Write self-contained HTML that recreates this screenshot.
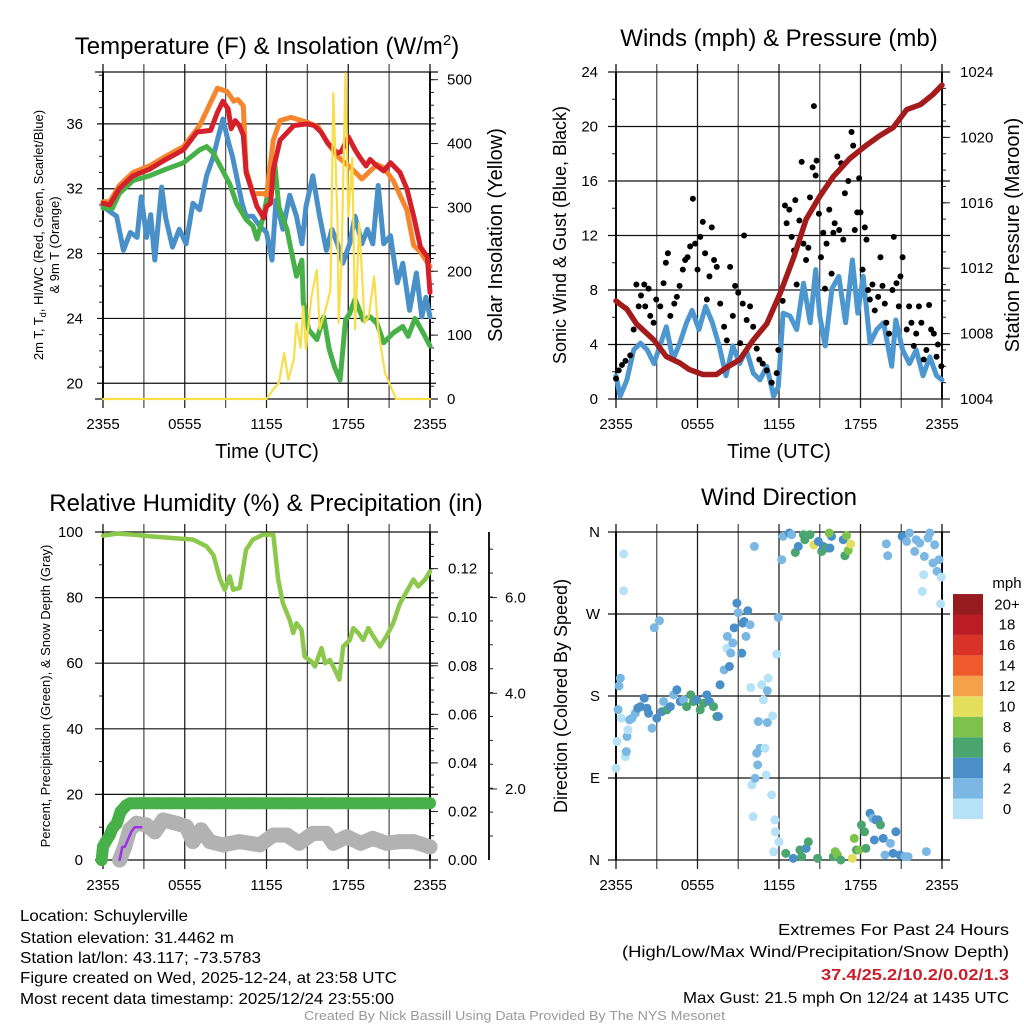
<!DOCTYPE html>
<html><head><meta charset="utf-8"><style>
html,body{margin:0;padding:0;background:#fff;}
svg{display:block;font-family:"Liberation Sans",Arial,sans-serif;}
</style></head><body>
<svg id="fig" width="1024" height="1024" viewBox="0 0 1024 1024" xmlns="http://www.w3.org/2000/svg">
<rect width="1024" height="1024" fill="#fff"/>
<g id="layer"></g>
<g id="texts">
<text x="267" y="54" font-size="24" text-anchor="middle">Temperature (F) &amp; Insolation (W/m<tspan dy="-9" font-size="15">2</tspan><tspan dy="9">)</tspan></text>
<text x="779" y="46" font-size="24" text-anchor="middle">Winds (mph) &amp; Pressure (mb)</text>
<text x="266" y="511" font-size="24" text-anchor="middle">Relative Humidity (%) &amp; Precipitation (in)</text>
<text x="779" y="505" font-size="24" text-anchor="middle">Wind Direction</text>
<text x="267" y="458" font-size="20" text-anchor="middle">Time (UTC)</text>
<text x="779" y="458" font-size="20" text-anchor="middle">Time (UTC)</text>
<text transform="translate(43,235) rotate(-90)" font-size="13" text-anchor="middle">2m T, T<tspan font-size="9" dy="3">d</tspan><tspan dy="-3">, HI/WC (Red, Green, Scarlet/Blue)</tspan></text>
<text transform="translate(59,245) rotate(-90)" font-size="13" text-anchor="middle">&amp; 9m T (Orange)</text>
<text transform="translate(502,235) rotate(-90)" font-size="20" text-anchor="middle">Solar Insolation (Yellow)</text>
<text transform="translate(566,235) rotate(-90)" font-size="18" text-anchor="middle">Sonic Wind &amp; Gust (Blue, Black)</text>
<text transform="translate(1019,235) rotate(-90)" font-size="20" text-anchor="middle">Station Pressure (Maroon)</text>
<text transform="translate(50,696) rotate(-90)" font-size="13" text-anchor="middle">Percent, Precipitation (Green), &amp; Snow Depth (Gray)</text>
<text transform="translate(567,696) rotate(-90)" font-size="18" text-anchor="middle">Direction (Colored By Speed)</text>
<text x="1007" y="588" font-size="15" text-anchor="middle">mph</text>
<text x="20" y="921" font-size="16" textLength="168" lengthAdjust="spacingAndGlyphs">Location: Schuylerville</text>
<text x="20" y="943" font-size="16" textLength="214" lengthAdjust="spacingAndGlyphs">Station elevation: 31.4462 m</text>
<text x="20" y="963" font-size="16" textLength="241" lengthAdjust="spacingAndGlyphs">Station lat/lon: 43.117; -73.5783</text>
<text x="20" y="983" font-size="16" textLength="377" lengthAdjust="spacingAndGlyphs">Figure created on Wed, 2025-12-24, at 23:58 UTC</text>
<text x="20" y="1004" font-size="16" textLength="374" lengthAdjust="spacingAndGlyphs">Most recent data timestamp: 2025/12/24 23:55:00</text>
<text x="778" y="935" font-size="16" textLength="231" lengthAdjust="spacingAndGlyphs">Extremes For Past 24 Hours</text>
<text x="622" y="957" font-size="16" textLength="387" lengthAdjust="spacingAndGlyphs">(High/Low/Max Wind/Precipitation/Snow Depth)</text>
<text x="821" y="980" font-size="16" font-weight="bold" fill="#c8202a" textLength="188" lengthAdjust="spacingAndGlyphs">37.4/25.2/10.2/0.02/1.3</text>
<text x="683" y="1003" font-size="16" textLength="326" lengthAdjust="spacingAndGlyphs">Max Gust: 21.5 mph On 12/24 at 1435 UTC</text>
<text x="304" y="1020" font-size="13" fill="#999" textLength="421" lengthAdjust="spacingAndGlyphs">Created By Nick Bassill Using Data Provided By The NYS Mesonet</text>
</g>
</svg>
<script>
// ---------- data ----------
const xTickLabels=["2355","0555","1155","1755","2355"];
const tempTicks=[20,24,28,32,36];
const solarTicks=[0,100,200,300,400,500];
const windTicks=[0,4,8,12,16,20,24];
const presTicks=[1004,1008,1012,1016,1020,1024];
const rhTicks=[0,20,40,60,80,100];
const precipTicks=["0.00","0.02","0.04","0.06","0.08","0.10","0.12"];
const snowTickLabels=["2.0","4.0","6.0"];
const dirLabels=["N","E","S","W","N"];
const cbarLabels=["0","2","4","6","8","10","12","14","16","18","20+"];
const cbarColors=["#b5e2f6","#7ab8e3","#4a8fc7","#4aa56e","#7dc24b","#e3df5c","#f5a04a","#ee5a2b","#d93327","#bb1d26","#951b1e"];

const redH=[0,0.5,1.2,2.2,3.4,4.6,5.9,6.9,7.9,8.4,8.8,9.2,9.4,9.7,10.0,10.3,10.5,11.0,11.3,11.8,12.0,12.3,12.5,13.0,14.0,15.0,15.5,16.0,16.5,17.2,17.5,18.0,18.5,18.8,19.3,19.6,20.1,20.6,21.1,21.8,22.3,22.8,23.3,23.8,24.0];
const redT=[31.1,31.0,32.0,32.8,33.2,33.8,34.4,35.5,35.6,36.7,37.4,36.9,35.7,36.2,35.9,35.3,33.0,31.7,30.9,30.2,30.9,31.1,33.2,35.0,35.9,36.0,35.9,35.5,34.8,34.2,34.3,35.2,34.4,34.0,33.4,33.8,33.4,33.1,33.6,33.0,32.0,30.3,28.4,27.8,25.6];
const orgH=[0,0.5,1.2,2.2,3.4,4.6,5.9,7.1,8.4,9.1,9.6,9.9,10.3,10.5,11.0,11.8,12.0,12.5,13.0,13.8,15.0,15.8,16.5,17.2,18.3,19.0,20.1,20.6,21.3,22.3,22.8,23.3,24.0];
const orgT=[31.2,31.2,32.2,33.0,33.4,34.0,34.6,35.9,38.2,38.0,37.4,37.5,37.1,33.2,31.7,31.7,31.6,35.0,36.2,36.4,36.1,35.8,34.8,34.0,33.2,32.6,33.5,33.3,32.5,30.7,28.5,28.1,27.2];
const grnH=[0,0.7,1.2,2.2,3.4,4.6,5.9,7.1,7.6,8.1,8.6,9.3,9.8,10.5,11.0,11.3,11.8,12.2,12.6,12.9,13.5,14.0,14.2,14.6,14.7,15.1,15.7,16.2,16.6,17.0,17.4,17.8,18.1,18.5,19.1,19.6,20.1,20.6,21.3,22.0,22.4,22.9,23.5,24.0];
const grnT=[30.8,30.8,31.7,32.5,32.8,33.2,33.6,34.4,34.6,34.2,33.4,32.3,31.1,30.1,29.7,28.9,30.4,32.2,33.6,30.9,29.5,27.4,26.6,27.6,25.0,23.3,22.7,24.1,22.1,21.0,20.2,23.9,24.3,25.2,23.9,24.1,23.7,22.5,23.1,23.5,22.9,24.0,23.1,22.3];
const bluH=[0,1.0,1.5,2.0,2.5,2.8,3.2,3.5,3.8,4.3,4.6,5.1,5.6,6.1,6.6,7.1,7.6,8.1,8.4,8.8,9.2,9.5,9.8,10.2,10.5,11.0,11.5,12.0,12.4,12.7,13.2,13.7,14.2,14.6,14.9,15.4,15.9,16.4,16.8,17.2,17.6,18.1,18.5,19.0,19.4,19.8,20.2,20.6,21.1,21.6,22.0,22.5,23.0,23.4,23.7,24.0];
const bluT=[30.9,30.3,28.2,29.3,29.0,31.5,29.0,30.4,27.6,32.1,30.2,28.4,29.5,28.6,31.1,30.7,32.8,34.0,35.0,36.3,34.9,34.0,32.8,31.1,30.3,30.3,29.7,29.3,27.6,31.3,29.5,31.6,30.3,28.6,30.9,32.8,30.3,28.2,29.5,28.6,27.4,28.6,30.3,28.6,29.5,28.6,32.2,28.6,29.1,26.2,27.4,24.5,26.8,24.1,25.3,24.1];
const solH=[0,12.0,12.5,12.9,13.3,13.6,14.0,14.2,14.5,14.7,14.9,15.3,15.7,15.9,16.4,16.7,16.9,17.2,17.3,17.5,17.8,18.0,18.3,18.5,18.8,19.2,19.5,19.9,20.2,20.7,21.5,24.0];
const solW=[0,0,15,25,72,30,62,119,80,145,78,161,202,109,145,171,479,286,119,213,510,286,377,109,276,119,129,192,109,41,0,0];

const presH=[0,0.3,0.8,1.5,2.8,3.7,4.7,5.4,6.4,7.4,8.1,9.1,10.1,11.1,12.1,13.1,14.0,15.0,16.0,17.2,18.4,19.4,20.4,21.4,22.4,23.3,24.0];
const presMb=[1010.0,1009.8,1009.5,1008.6,1007.6,1006.6,1006.2,1005.8,1005.5,1005.5,1005.9,1006.4,1007.6,1008.6,1010.5,1012.7,1015.0,1016.4,1017.6,1018.7,1019.5,1020.1,1020.6,1021.7,1022.0,1022.6,1023.2];
const windH=[0,0.3,0.8,1.3,1.8,2.3,2.8,3.3,3.7,4.2,4.7,5.2,5.6,6.1,6.6,7.1,7.6,8.1,8.6,9.1,9.6,10.1,10.6,11.1,11.6,11.95,12.3,12.8,13.3,13.8,14.3,14.7,15.0,15.4,15.9,16.4,16.9,17.4,17.8,18.2,18.7,19.2,19.7,20.3,20.6,21.1,21.6,22.1,22.6,23.1,23.6,24.0];
const windMph=[1.7,0.2,1.4,3.6,4.1,3.6,2.6,4.1,5.3,2.9,4.1,5.6,6.5,5.1,6.8,5.6,3.9,1.7,3.9,2.6,3.6,1.9,1.4,2.4,0.2,0.9,6.3,6.1,5.1,8.5,5.6,9.5,6.1,3.9,8.1,9.0,5.6,10.2,6.3,9.0,4.1,5.1,5.6,2.4,5.8,3.6,2.6,3.6,1.7,3.1,1.7,1.4];
const gustH=[0,0.2,0.44,0.7,1.05,1.3,1.5,1.67,1.84,2.08,2.15,2.4,2.52,2.77,2.96,3.26,3.5,3.67,3.82,4.0,4.29,4.48,4.68,4.92,5.09,5.27,5.46,5.66,5.83,6.0,6.2,6.39,6.56,6.69,6.88,7.05,7.22,7.42,7.67,7.96,8.16,8.4,8.6,8.77,9.0,9.14,9.33,9.43,9.62,9.87,10.1,10.36,10.55,10.8,11.1,11.46,11.83,11.95,12.27,12.44,12.56,12.76,12.93,13.1,13.2,13.3,13.5,13.67,13.8,13.99,14.16,14.28,14.47,14.57,14.7,14.77,14.94,15.09,15.26,15.38,15.5,15.7,15.87,16.0,16.1,16.29,16.43,16.58,16.73,16.85,17.1,17.34,17.46,17.58,17.76,17.9,18.0,18.15,18.32,18.44,18.56,18.69,18.88,19.05,19.3,19.47,19.62,19.79,19.9,20.1,20.35,20.45,20.65,20.82,20.94,21.1,21.4,21.58,21.75,21.92,22.1,22.3,22.48,22.65,22.85,23.05,23.2,23.4,23.6,23.7,23.95];
const gustMph=[1.5,2.1,2.5,2.8,3.2,5.1,8.4,6.8,7.6,8.4,6.8,8.1,6.1,5.6,7.3,6.8,8.5,10.0,10.7,6.1,7.0,7.5,8.3,9.5,10.2,10.4,11.2,14.7,11.4,9.5,11.9,13.0,10.7,7.3,9.0,12.6,10.2,9.7,7.0,5.3,4.3,9.7,6.1,8.3,7.8,4.1,7.0,12.0,5.8,6.8,5.3,3.7,2.9,2.6,2.1,1.2,1.9,3.6,7.2,14.2,12.9,13.9,11.9,10.9,14.6,8.4,13.1,17.4,11.4,10.2,11.1,14.8,17.0,21.5,16.4,17.5,13.6,10.4,12.2,8.1,11.4,13.9,9.2,12.2,12.9,17.8,12.4,17.3,11.7,15.1,16.0,19.6,18.6,12.4,13.7,16.2,13.7,9.5,12.6,11.7,8.0,7.3,8.4,6.5,7.5,10.4,8.3,7.0,5.6,4.8,8.0,11.9,8.5,6.8,9.0,10.4,5.1,6.8,5.6,3.9,4.8,6.8,5.6,2.9,3.6,6.9,5.1,4.8,3.1,4.0,2.4];

const rhH=[0,0.98,2.2,3.43,5.88,6.6,7.6,8.1,8.6,8.94,9.3,9.55,10.04,10.5,11.0,11.76,12.5,12.86,13.2,13.7,13.96,14.2,14.57,14.8,15.3,15.55,16.04,16.3,16.65,17.02,17.34,17.63,18.12,18.37,18.74,19.1,19.47,19.84,20.33,20.8,21.3,21.8,22.3,22.78,23.14,23.63,24.0];
const rhPct=[98.9,99.5,99.2,98.7,97.9,97.7,95.6,93.0,85.5,82.4,86.5,82.4,83.0,94.6,97.7,99.2,99.2,85.5,78.3,73.2,69.2,72.2,70.2,62.0,60.5,59.0,64.6,60.0,61.0,58.0,55.0,65.1,67.1,70.7,69.2,67.1,70.7,68.2,65.1,68.2,72.2,78.3,81.9,85.5,83.4,85.5,88.0];
const precipH=[-0.1,0.0,0.2,0.5,0.7,1.0,1.3,1.7,2.0,3,4,5,6,7,8,9,10,11,12,13,14,15,16,17,18,19,20,21,22,23,24];
const precipIn=[0.0,0.0055,0.0075,0.0103,0.013,0.015,0.02,0.0225,0.0234,0.0234,0.0234,0.0234,0.0234,0.0234,0.0234,0.0234,0.0234,0.0234,0.0234,0.0234,0.0234,0.0234,0.0234,0.0234,0.0234,0.0234,0.0234,0.0234,0.0234,0.0234,0.0234];
const snowH=[1.22,1.59,1.96,2.45,3.18,3.8,4.41,5.39,6.12,6.6,7.2,7.84,8.8,10.0,11.5,12.5,13.5,14.4,15.4,16.4,16.9,17.9,18.9,19.8,20.8,21.8,22.8,24.0];
const snowScaled=[0,4,9.2,11.2,10.7,8.6,12.2,11.2,10.2,5.6,9.2,5.6,4.6,5.6,4.6,7.6,7.6,5.1,8.1,8.1,5.1,7.1,5.1,6.6,5.1,5.6,5.6,4.0];
const purpleH=[1.22,1.42,1.6,2.08,2.33,2.8];
const purpleVal=[0,4,4,8.6,10,10];

const dirH=[0,0.07,0.22,0.32,0.15,0.39,0.56,0.56,0.69,0.76,0.81,0.88,1.0,1.18,1.42,1.6,1.8,2.08,2.28,2.4,2.65,2.82,3.0,3.2,3.38,3.5,3.75,4.0,4.24,4.48,4.73,4.97,5.2,5.5,5.7,5.95,6.2,6.44,6.69,6.88,7.18,7.42,7.54,7.66,7.96,8.16,8.2,8.35,8.45,8.6,8.7,8.9,9.0,9.26,9.33,9.43,9.57,9.7,9.87,9.92,10.19,10.0,10.1,10.24,10.36,10.43,10.48,10.6,10.73,10.85,10.97,11.05,11.14,11.2,11.14,11.46,11.53,11.7,11.73,11.83,11.95,12.0,11.6,12.2,12.3,12.5,12.76,12.93,13.05,13.2,13.42,13.54,13.67,13.8,13.9,14.0,14.16,14.28,14.57,14.84,14.9,15.14,15.26,15.5,15.75,15.87,15.7,16.0,16.14,16.3,16.55,16.73,16.85,16.97,17.1,17.27,17.4,17.54,17.7,17.9,18.07,18.3,18.4,18.7,18.9,19.02,19.13,19.3,19.47,19.67,19.8,19.9,20.0,20.2,20.4,20.6,20.9,21.06,21.26,21.5,21.4,21.6,21.99,22.1,22.36,22.55,22.65,22.7,22.85,22.97,23.1,23.34,23.46,23.63,23.78,23.95,23.9];
const dirDeg=[100.7,130,191,199.6,165,155.6,335.8,295.5,113.5,119,135.5,142.8,153.8,155.6,161,166.6,168.4,177.6,166.6,161,144.6,255,155.6,262.6,162.9,174,164.8,168.4,181.3,186.8,174,175.8,168.4,181.3,174,175.8,164.8,172,181.3,174,168.4,157.5,157.5,192.3,208.7,232.5,245.4,212.4,227,238.3,254.8,282,271.4,227,260,261.8,245.4,273.6,258.2,189.3,344.2,82.4,47.6,89.7,117.2,104.4,152,122.7,192.3,175.8,122.7,93.4,185.7,199.6,150.9,71.4,158.2,44,31,226,266.2,20,9,329.6,355.2,7.3,358.9,357,1.8,337.6,344.2,11,3.7,357,351.5,12.8,20,357,346,1.8,349.7,338.7,344.2,342.4,342.4,355.2,358.9,3.7,9.2,5.5,0,351.5,334,356,339.8,346.8,1.8,23.8,11,11,38.5,31,12.8,51.3,45.8,22,44,44,38.5,23.8,5.5,347,334,18.3,7.3,31,5.5,355.2,3.7,3.7,349.7,358.9,338.7,351.5,347.9,294.8,313.1,333.2,9.2,353.4,358.9,326,346,316.8,329.6,310.5,281.2];
const dirSpd=[1,1,3,3,3,1,1,1,1,3,3,1,3,3,3,5,5,5,5,5,3,3,5,3,5,3,7,5,3,5,5,3,7,7,7,5,7,7,5,5,7,7,5,5,3,1,3,5,3,3,5,5,3,5,5,5,3,5,3,1,3,1,1,3,3,3,3,3,1,1,1,1,3,1,3,1,1,1,1,1,3,1,1,3,3,7,5,3,5,7,5,7,7,7,7,5,7,7,11,7,5,7,5,7,5,5,9,7,9,9,7,5,7,9,9,11,11,9,7,9,7,7,7,5,3,5,5,5,7,5,3,3,3,3,5,5,5,5,3,3,3,3,3,3,3,1,1,3,3,3,3,3,3,3,3,1,1];

// ---------- helpers ----------
const NS="http://www.w3.org/2000/svg";
const layer=document.getElementById('layer');
function mk(tag,attrs,parent){const e=document.createElementNS(NS,tag);for(const k in attrs)e.setAttribute(k,attrs[k]);(parent||layer).appendChild(e);return e;}
const P1={x0:103,x1:430,y0:72,y1:399};
const P2={x0:616,x1:942,y0:72,y1:399};
const P3={x0:103,x1:430,y0:532,y1:860};
const P4={x0:616,x1:942,y0:532,y1:860};
const xs=(p,h)=>p.x0+(p.x1-p.x0)*h/24;
const lin=(p,lo,hi)=>v=>p.y1-(v-lo)/(hi-lo)*(p.y1-p.y0);
const yT=lin(P1,19.03,39.2), yS=lin(P1,0,512);
const yW=lin(P2,0,24), yP=lin(P2,1004,1024);
const yR=lin(P3,0,100), yPr=lin(P3,0,0.1351);
const yD=lin(P4,0,360);

function frame(p,name){
  const g=mk('g',{});
  
  
  for(let h=0;h<=24;h+=3){
    const x=xs(p,h);
    const l=mk('line',{x1:x,x2:x,y1:p.y0-8,y2:p.y1+9,stroke:(h%6==0&&h>0&&h<24)?'#222':'#555','stroke-width':(h==0||h==24)?1.8:1.3},g);
    
    
  }
  xTickLabels.forEach((t,i)=>{
    const x=xs(p,i*6);
    const tx=mk('text',{x:x,y:p.y1+30,'font-size':15,'text-anchor':'middle'},g);
    tx.textContent=t;
    
    
  });
  return g;
}
function hline(p,y,name,ext){const l=mk('line',{x1:p.x0-(ext||8),x2:p.x1+(ext||8),y1:y,y2:y,stroke:'#111','stroke-width':1.2});
  
  }
function label(x,y,t,anchor,name,size){const tx=mk('text',{x:x,y:y+5,'font-size':size||15,'text-anchor':anchor});tx.textContent=t;
  
  }
function tick(x1,x2,y,name){const l=mk('line',{x1:x1,x2:x2,y1:y,y2:y,stroke:'#222','stroke-width':1});
  
  }
function path(xsArr,ysArr,px,py,p,color,w,name){
  const d=xsArr.map((h,i)=>(i?'L':'M')+xs(p,h).toFixed(1)+','+py(ysArr[i]).toFixed(1)).join('');
  const e=mk('path',{d:d,fill:'none',stroke:color,'stroke-width':w,'stroke-linejoin':'round','stroke-linecap':'round'});
  
  
}
function spine(x,y1,y2,name){const l=mk('line',{x1:x,x2:x,y1:y1,y2:y2,stroke:'#000','stroke-width':1.8});
  
  }

// ---------- Panel 1 ----------
frame(P1,'temperature');
hline(P1,P1.y0,'temperature-top-border',0);
hline(P1,P1.y1,'temperature-bottom-border',0);
tempTicks.forEach(v=>{hline(P1,yT(v),'temperature-gridline',6);label(83,yT(v),String(v),'end','temperature-y-tick-label');});
for(let v=20;v<=39;v++){tick(P1.x0-4,P1.x0,yT(v),'temperature-minor-tick');}
solarTicks.forEach(v=>{tick(P1.x1,P1.x1+8,yS(v),'solar-tick');label(447,yS(v),String(v),'start','solar-y-tick-label');});
for(let v=20;v<=500;v+=20){tick(P1.x1,P1.x1+4,yS(v),'solar-minor-tick');}
spine(P1.x0,P1.y0,P1.y1,'temperature-left-spine');spine(P1.x1,P1.y0,P1.y1,'solar-right-spine');
path(bluH,bluT,xs,yT,P1,'#4a90c8',5,'windchill-line');
path(grnH,grnT,xs,yT,P1,'#48b048',5,'dewpoint-line');
path(orgH,orgT,xs,yT,P1,'#f5862e',5,'temp-9m-line');
path(redH,redT,xs,yT,P1,'#d4202a',5,'temp-2m-line');
path(solH,solW,xs,yS,P1,'#f7de4a',2.2,'solar-line');

// ---------- Panel 2 ----------
frame(P2,'wind');
windTicks.forEach(v=>{hline(P2,yW(v),'wind-gridline',8);label(598,yW(v),String(v),'end','wind-y-tick-label');});
for(let v=2;v<24;v+=4){tick(P2.x0-4,P2.x0,yW(v),'wind-minor-tick');}
presTicks.forEach(v=>{tick(P2.x1,P2.x1+8,yP(v),'pressure-tick');label(960,yP(v),String(v),'start','pressure-y-tick-label');});
for(let v=1005;v<1024;v++){tick(P2.x1,P2.x1+4,yP(v),'pressure-minor-tick');}
spine(P2.x0,P2.y0,P2.y1,'wind-left-spine');spine(P2.x1,P2.y0,P2.y1,'pressure-right-spine');
path(windH,windMph,xs,yW,P2,'#4d97d0',5,'sonic-wind-line');
gustH.forEach((h,i)=>{const c=mk('circle',{cx:xs(P2,h),cy:yW(gustMph[i]),r:3,fill:'#000'});
  
  });
path(presH,presMb,xs,yP,P2,'#a31b1b',5.5,'pressure-line');

// ---------- Panel 3 ----------
frame(P3,'humidity');
rhTicks.forEach(v=>{hline(P3,yR(v),'humidity-gridline',8);label(83,yR(v),String(v),'end','humidity-y-tick-label');});
for(let v=10;v<100;v+=20){tick(P3.x0-4,P3.x0,yR(v),'humidity-minor-tick');}
precipTicks.forEach(t=>{const v=parseFloat(t);tick(P3.x1,P3.x1+8,yPr(v),'precip-tick');label(448,yPr(v),t,'start','precip-y-tick-label');});
for(let v=0.005;v<0.135;v+=0.005){tick(P3.x1,P3.x1+4,yPr(v),'precip-minor-tick');}
spine(P3.x0,P3.y0,P3.y1,'humidity-left-spine');spine(P3.x1,P3.y0,P3.y1,'precip-right-spine');
spine(489,P3.y0,P3.y1,'snow-axis-spine');
snowTickLabels.forEach((t,i)=>{const y=789-(i)*95.7;tick(489,497,y,'snow-tick');label(505,y,t,'start','snow-y-tick-label');});
for(let y=860-24;y>P3.y0;y-=23.9){tick(489,493,y,'snow-minor-tick');}
path(rhH,rhPct,xs,yR,P3,'#8cc84b',4.5,'rh-line');
snowH.forEach((h,i)=>{const c=mk('circle',{cx:xs(P3,h),cy:yR(snowScaled[i]),r:7.5,fill:'#b2b2b2'});
  
  });
path(snowH,snowScaled,xs,yR,P3,'#b2b2b2',15,'snow-depth-line');
path(precipH,precipIn,xs,yPr,P3,'#48b048',12,'precip-line');
precipH.forEach((h,i)=>{const c=mk('circle',{cx:xs(P3,h),cy:yPr(precipIn[i]),r:6,fill:'#48b048'});
  
  });
path(purpleH,purpleVal,xs,yR,P3,'#9b30f0',2.5,'snow-fall-line');

// ---------- Panel 4 ----------
frame(P4,'direction');
dirLabels.forEach((t,i)=>{hline(P4,yD(i*90),'direction-gridline',8);label(600,yD(i*90),t,'end','direction-y-tick-label');});
spine(P4.x0,P4.y0,P4.y1,'direction-left-spine');spine(P4.x1,P4.y0,P4.y1,'direction-right-spine');
dirH.forEach((h,i)=>{const b=Math.max(0,Math.min(10,Math.floor(dirSpd[i]/2)));
  const c=mk('circle',{cx:xs(P4,h),cy:yD(dirDeg[i]),r:4.5,fill:cbarColors[b]});
  
  });
cbarColors.forEach((col,i)=>{const y=819-(i+1)*20.45;
  const r=mk('rect',{x:953,y:y,width:30,height:20.45,fill:col});
  
  
  label(1007,y+10.2,cbarLabels[i],'middle','colorbar-label');});
</script>
</body></html>
